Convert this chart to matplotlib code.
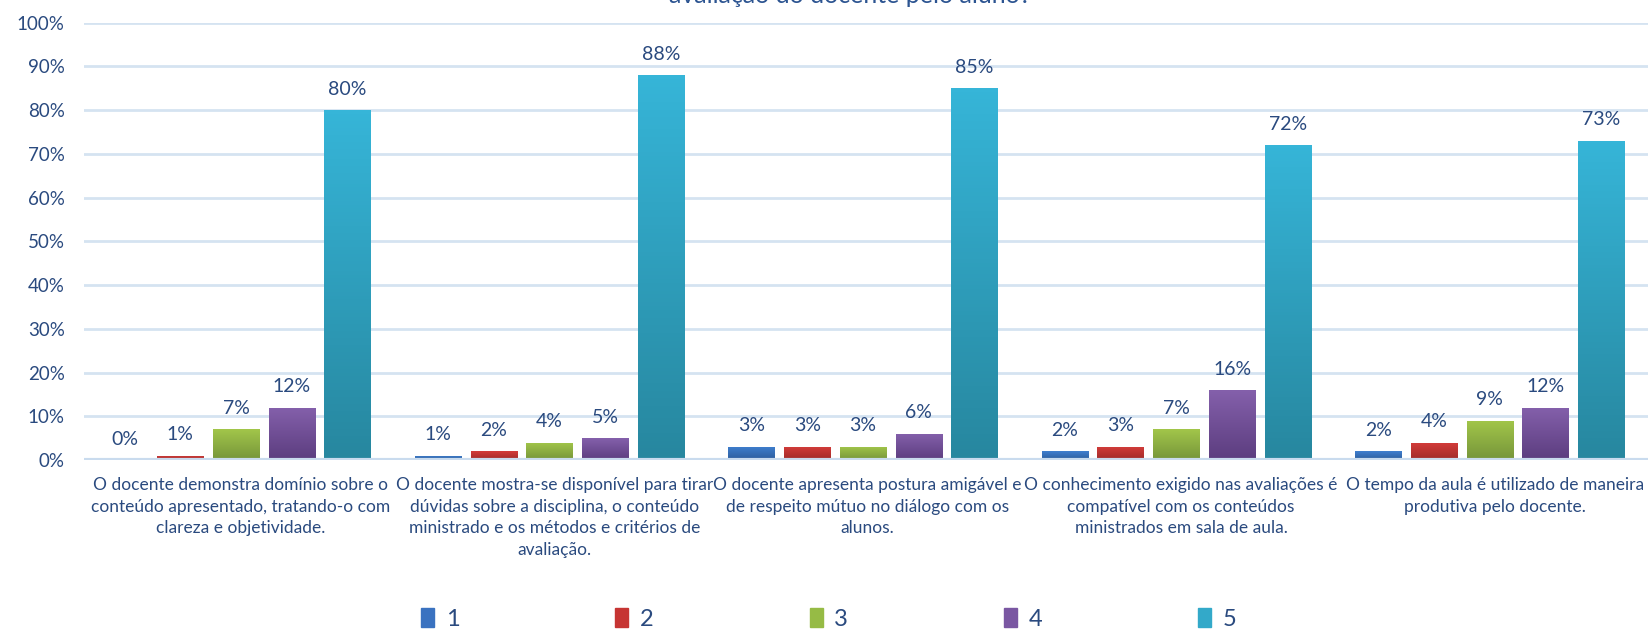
import numpy as np
import matplotlib.pyplot as plt
from matplotlib.colors import LinearSegmentedColormap
from matplotlib.ticker import PercentFormatter

categories = [
    "O docente demonstra domínio sobre o\nconteúdo apresentado, tratando-o com\nclareza e objetividade.",
    "O docente mostra-se disponível para tirar\ndúvidas sobre a disciplina, o conteúdo\nministrado e os métodos e critérios de\navaliação.",
    "O docente apresenta postura amigável e\nde respeito mútuo no diálogo com os\nalunos.",
    "O conhecimento exigido nas avaliações é\ncompatível com os conteúdos\nministrados em sala de aula.",
    "O tempo da aula é utilizado de maneira\nprodutiva pelo docente.",
]
series_names = ["1", "2", "3", "4", "5"]
s1 = [0, 1, 3, 2, 2]
s2 = [1, 2, 3, 3, 4]
s3 = [7, 4, 3, 7, 9]
s4 = [12, 5, 6, 16, 12]
s5 = [80, 88, 85, 72, 73]
title = "avaliação do docente pelo aluno?"

# (top color, bottom color) per series
grads = [
    ("#3f7fcf", "#2d5d9c"),
    ("#d43c3a", "#a02b29"),
    ("#a2c64a", "#76953a"),
    ("#8460ab", "#5c3d7f"),
    ("#36b5d8", "#27879f"),
]
legend_colors = ["#3a72c0", "#c63533", "#96bb45", "#7a57a2", "#33a9c9"]
text_col = "#2a4a7f"

plt.rcParams['font.family'] = ['Lato', 'DejaVu Sans']

fig = plt.figure(figsize=(16.48, 6.32), dpi=100)
ax = fig.add_axes([0.051, 0.272, 0.951, 0.692])

data = [s1, s2, s3, s4, s5]
x = np.arange(len(categories))
step = 0.178
width = 0.148

for i, vals in enumerate(data):
    pos = x + (i - 2) * step - 0.015
    bars = ax.bar(pos, vals, width, color='none', edgecolor='none', zorder=3)
    cmap = LinearSegmentedColormap.from_list('g%d' % i, [grads[i][1], grads[i][0]])
    for b, v in zip(bars, vals):
        if v > 0:
            grad = np.linspace(0, 1, 100).reshape(-1, 1)
            im = ax.imshow(grad, cmap=cmap, origin='lower', aspect='auto',
                           extent=[b.get_x(), b.get_x() + b.get_width(), 0, v],
                           zorder=3)
            im.set_clip_path(b)
        ax.annotate(f"{v}%", (b.get_x() + b.get_width() / 2, v),
                    xytext=(0, 9), textcoords='offset points',
                    ha='center', va='bottom', fontsize=14, color=text_col)

ax.set_xlim(-0.5, len(categories) - 0.5)
ax.set_ylim(0, 100)
ax.set_yticks(np.arange(0, 101, 10))
ax.yaxis.set_major_formatter(PercentFormatter(decimals=0))
ax.set_xticks(x)
ax.set_xticklabels(categories, fontsize=12.5, color=text_col, linespacing=1.45)
ax.tick_params(axis='y', labelsize=13.5, colors=text_col, length=0, pad=14)
ax.tick_params(axis='x', length=0, pad=12)
ax.grid(axis='y', color='#d5e3f1', linewidth=2, zorder=0)
ax.set_axisbelow(True)
for s in ax.spines.values():
    s.set_visible(False)
ax.axhline(0, color='#c9dbee', linewidth=3, zorder=4)

handles = [plt.Rectangle((0, 0), 1, 1, color=c) for c in legend_colors]
fig.legend(handles, series_names, loc='lower center', bbox_to_anchor=(0.503, -0.03),
           ncol=5, frameon=False, fontsize=17, handlelength=0.55, handleheight=0.8,
           handletextpad=0.5, columnspacing=6.6, labelcolor=text_col)

fig.text(0.516, 1 - 3 / 632, title, ha='center', va='baseline',
         fontsize=18, color='#2c5491')

fig.savefig('out.png', dpi=100)
